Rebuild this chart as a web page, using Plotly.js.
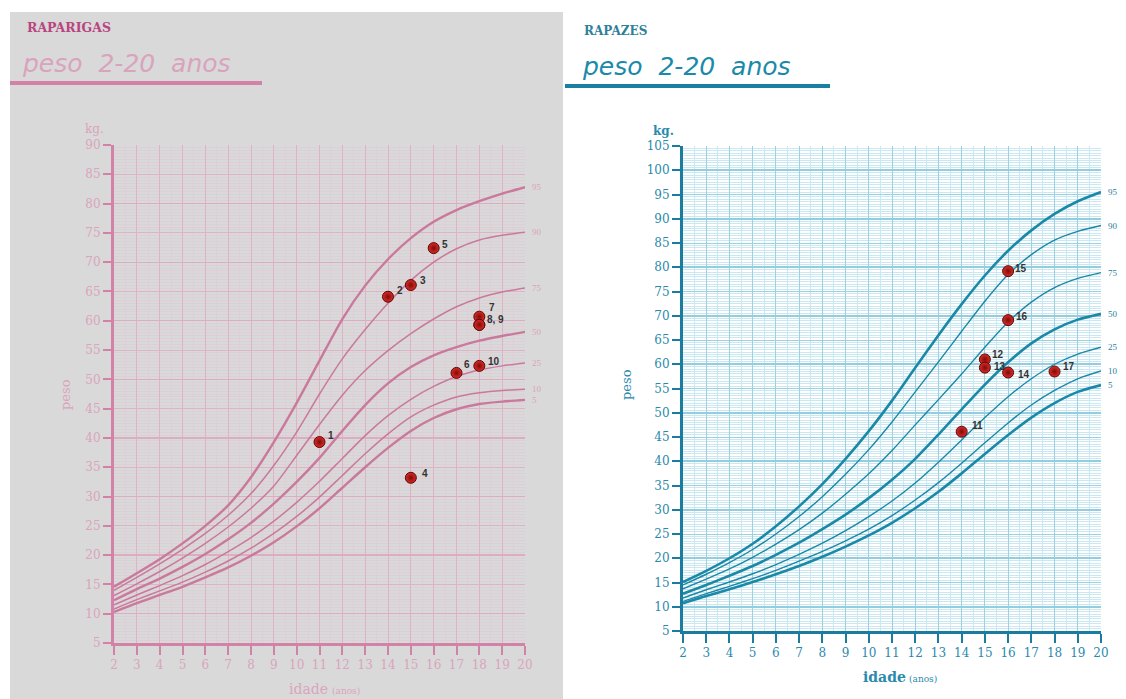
<!DOCTYPE html>
<html><head><meta charset="utf-8">
<script src="https://cdn.plot.ly/plotly-3.0.1.min.js"></script>
<style>html,body{margin:0;padding:0;background:#fff;}#chart{width:1126px;height:699px;}</style>
</head><body><div id="chart"></div>
<script>
// ---------- DATA ----------
const ages = [2,3,4,5,6,7,8,9,10,11,12,13,14,15,16,17,18,19,20];
const percentileNames = ['5','10','25','50','75','90','95'];

// Raparigas (girls) weight percentiles, kg
const girlsP5  = [10.3,11.8,13.2,14.6,16.2,17.9,19.9,22.2,24.9,28.0,31.5,35.0,38.3,41.2,43.4,44.9,45.8,46.2,46.5];
const girlsP10 = [10.8,12.4,13.9,15.4,17.1,19.0,21.2,23.7,26.6,29.9,33.6,37.3,40.7,43.6,45.6,47.0,47.7,48.1,48.3];
const girlsP25 = [11.5,13.2,14.8,16.5,18.4,20.6,23.0,25.8,29.0,32.6,36.5,40.4,43.8,46.6,48.8,50.5,51.6,52.3,52.8];
const girlsP50 = [12.3,14.2,16.0,18.0,20.2,22.7,25.5,28.8,32.5,36.6,41.2,45.6,49.3,52.1,54.1,55.5,56.6,57.4,58.1];
const girlsP75 = [13.1,15.1,17.2,19.5,22.0,24.8,28.0,31.8,37.0,42.3,47.3,51.5,54.9,57.8,60.3,62.4,63.9,64.9,65.6];
const girlsP90 = [14.0,16.2,18.5,21.0,23.7,26.8,30.5,35.3,41.0,47.5,53.5,58.5,63.0,66.9,70.0,72.3,73.8,74.6,75.1];
const girlsP95 = [14.6,16.9,19.3,22.0,25.0,28.5,33.3,39.3,46.0,53.2,60.3,66.0,70.5,74.1,76.9,78.9,80.4,81.7,82.8];

// Rapazes (boys) weight percentiles, kg
const boysP5  = [10.7,12.2,13.6,15.1,16.7,18.4,20.3,22.4,24.7,27.3,30.3,33.7,37.5,41.5,45.4,49.0,52.0,54.3,55.7];
const boysP10 = [11.1,12.7,14.2,15.8,17.5,19.4,21.4,23.6,26.0,28.8,32.0,35.6,39.6,43.8,47.9,51.6,54.6,57.0,58.6];
const boysP25 = [11.8,13.5,15.1,16.8,18.7,20.8,23.1,25.7,28.6,31.8,35.5,39.8,44.4,49.0,53.3,57.0,60.0,62.1,63.5];
const boysP50 = [12.7,14.5,16.4,18.4,20.7,23.2,26.0,29.0,32.4,36.2,40.5,45.5,50.7,55.8,60.4,64.3,67.2,69.2,70.4];
const boysP75 = [13.7,15.7,17.8,20.2,22.9,25.9,29.3,33.2,37.4,42.2,47.5,52.7,58.0,63.5,68.7,72.8,75.8,77.7,78.9];
const boysP90 = [14.5,16.7,19.1,21.8,25.0,28.6,32.7,37.3,42.4,48.1,54.3,60.5,66.8,73.0,78.5,82.6,85.6,87.4,88.6];
const boysP95 = [15.1,17.4,20.0,23.0,26.6,30.7,35.3,40.5,46.2,52.5,59.3,66.0,72.4,78.3,83.4,87.6,91.0,93.6,95.5];

// Observed points
const girlsPtAge    = [11,14,15,15,16,17,18,18,18,18];
const girlsPtKg     = [39.3,64.1,66.1,33.2,72.4,51.1,60.7,59.3,59.3,52.3];
const girlsPtLabel  = ['1','2','3','4','5','6','7','8, 9','','10'];
const boysPtAge     = [14,15,15,16,16,16,18];
const boysPtKg      = [46.1,61.0,59.3,58.3,79.2,69.1,58.5];
const boysPtLabel   = ['11','12','13','14','15','16','17'];

// ---------- STYLE ----------
const W = 1126, H = 699;
const px = v => v / W, py = v => 1 - v / H;
const girlsSeries = [girlsP5,girlsP10,girlsP25,girlsP50,girlsP75,girlsP90,girlsP95];
const boysSeries  = [boysP5,boysP10,boysP25,boysP50,boysP75,boysP90,boysP95];
const thick = {'5':true,'50':true,'95':true};
const girlOff = [[6,7],[7,6],[7,5],[9,4],[6,4],[5,8],[8,9],[6,5],[0,0],[7,4]];
const boyOff  = [[8,6],[5,5],[7,1],[8,-2],[5,3],[6,4],[6,5]];

const PINK_LINE = '#c9799b', PINK_AX = '#d282a6', PINK_TXT = '#daa4bc';
const TEAL_LINE = '#1a88a7', TEAL_AX = '#1a7d9f', TEAL_TXT = '#2a8aab';

const traces = [];
girlsSeries.forEach((s,i)=>{
  const n = percentileNames[i];
  traces.push({x:ages,y:s,xaxis:'x',yaxis:'y',mode:'lines',line:{color:PINK_LINE,width:thick[n]?2.4:1.5,shape:'spline',smoothing:0.7},hoverinfo:'skip',showlegend:false});
});
boysSeries.forEach((s,i)=>{
  const n = percentileNames[i];
  traces.push({x:ages,y:s,xaxis:'x2',yaxis:'y2',mode:'lines',line:{color:TEAL_LINE,width:thick[n]?2.6:1.4,shape:'spline',smoothing:0.7},hoverinfo:'skip',showlegend:false});
});
traces.push({x:[],y:[],xaxis:'x',yaxis:'y3',showlegend:false,hoverinfo:'skip'});
traces.push({x:[],y:[],xaxis:'x2',yaxis:'y4',showlegend:false,hoverinfo:'skip'});
const markerStyle = {size:11,color:'#e02a26',line:{color:'#5a0806',width:1},gradient:{type:'radial',color:'#7a0d0a'}};
traces.push({x:girlsPtAge,y:girlsPtKg,xaxis:'x',yaxis:'y',mode:'markers',marker:markerStyle,showlegend:false,cliponaxis:false});
traces.push({x:boysPtAge,y:boysPtKg,xaxis:'x2',yaxis:'y2',mode:'markers',marker:markerStyle,showlegend:false,cliponaxis:false});

const annotations = [];
const ptFont = {family:'Liberation Sans, Arial',size:10,color:'#333333'};
girlsPtAge.forEach((a,i)=>{
  if(!girlsPtLabel[i]) return;
  annotations.push({xref:'x',yref:'y',x:a,y:girlsPtKg[i],text:'<b>'+girlsPtLabel[i]+'</b>',showarrow:false,xanchor:'left',yanchor:'middle',xshift:girlOff[i][0],yshift:girlOff[i][1],font:ptFont});
});
boysPtAge.forEach((a,i)=>{
  annotations.push({xref:'x2',yref:'y2',x:a,y:boysPtKg[i],text:'<b>'+boysPtLabel[i]+'</b>',showarrow:false,xanchor:'left',yanchor:'middle',xshift:boyOff[i][0],yshift:boyOff[i][1],font:ptFont});
});
const lastAge = ages[ages.length-1];
girlsSeries.forEach((s,i)=>{
  annotations.push({xref:'x',yref:'y',x:lastAge,y:s[s.length-1],xshift:5,text:percentileNames[i],showarrow:false,xanchor:'left',yanchor:'middle',font:{family:'Liberation Serif',size:9,color:PINK_TXT}});
});
boysSeries.forEach((s,i)=>{
  annotations.push({xref:'x2',yref:'y2',x:lastAge,y:s[s.length-1],xshift:5,text:percentileNames[i],showarrow:false,xanchor:'left',yanchor:'middle',font:{family:'Liberation Serif',size:9,color:'#2a7f9c'}});
});
const serif = 'DejaVu Serif';
annotations.push(
  {xref:'paper',yref:'paper',x:px(25),y:py(27),text:'<b>RAPARIGAS</b>',showarrow:false,xanchor:'left',yanchor:'middle',font:{family:serif,size:12.5,color:'#b8457f'}},
  {xref:'paper',yref:'paper',x:px(20),y:py(63),text:'<i>peso&nbsp; 2-20&nbsp; anos</i>',showarrow:false,xanchor:'left',yanchor:'middle',font:{family:'DejaVu Sans',size:25,color:'#d9a3bd'}},
  {xref:'paper',yref:'paper',x:px(582),y:py(31),text:'<b>RAPAZES</b>',showarrow:false,xanchor:'left',yanchor:'middle',font:{family:serif,size:12,color:'#2f7f9b'}},
  {xref:'paper',yref:'paper',x:px(580),y:py(66),text:'<i>peso&nbsp; 2-20&nbsp; anos</i>',showarrow:false,xanchor:'left',yanchor:'middle',font:{family:'DejaVu Sans',size:25,color:'#1a8aa8'}},
  {xref:'paper',yref:'paper',x:px(95),y:py(129),text:'kg.',showarrow:false,xanchor:'center',yanchor:'middle',font:{family:serif,size:12,color:PINK_TXT}},
  {xref:'paper',yref:'paper',x:px(66),y:py(395),text:'peso',textangle:-90,showarrow:false,xanchor:'center',yanchor:'middle',font:{family:serif,size:13,color:PINK_TXT}},
  {xref:'paper',yref:'paper',x:px(287),y:py(689),text:'idade',showarrow:false,xanchor:'left',yanchor:'middle',font:{family:serif,size:14,color:PINK_TXT}},
  {xref:'paper',yref:'paper',x:px(330),y:py(691),text:'(anos)',showarrow:false,xanchor:'left',yanchor:'middle',font:{family:serif,size:9,color:PINK_TXT}},
  {xref:'paper',yref:'paper',x:px(663),y:py(131),text:'<b>kg.</b>',showarrow:false,xanchor:'center',yanchor:'middle',font:{family:serif,size:12,color:TEAL_TXT}},
  {xref:'paper',yref:'paper',x:px(627),y:py(385),text:'peso',textangle:-90,showarrow:false,xanchor:'center',yanchor:'middle',font:{family:serif,size:13,color:TEAL_TXT}},
  {xref:'paper',yref:'paper',x:px(861),y:py(677),text:'<b>idade</b>',showarrow:false,xanchor:'left',yanchor:'middle',font:{family:serif,size:14,color:TEAL_TXT}},
  {xref:'paper',yref:'paper',x:px(907),y:py(679),text:'(anos)',showarrow:false,xanchor:'left',yanchor:'middle',font:{family:serif,size:9,color:TEAL_TXT}}
);

const shapes = [
  {type:'rect',xref:'paper',yref:'paper',x0:px(10),x1:px(563),y0:0,y1:py(12),fillcolor:'#d9d9d9',line:{width:0},layer:'below'},
  {type:'rect',xref:'paper',yref:'paper',x0:px(10),x1:px(262),y0:py(85),y1:py(81),fillcolor:'#d282a6',line:{width:0},layer:'below'},
  {type:'rect',xref:'paper',yref:'paper',x0:px(565),x1:px(830),y0:py(88),y1:py(84),fillcolor:'#1a7fa0',line:{width:0},layer:'below'}
];

function xAx(domain, anchor, ax, txt, grid, minor){
  return {domain, anchor, range:[2,20], tick0:2, dtick:1, showgrid:true, gridcolor:grid, gridwidth:1,
    minor:{dtick:0.5, showgrid:true, gridcolor:minor, gridwidth:1, ticks:''},
    showline:true, linecolor:ax, linewidth:3, ticks:'outside', ticklen:9, tickwidth:2, tickcolor:ax,
    tickfont:{family:serif,size:12,color:txt}, zeroline:false, fixedrange:true};
}
function yAx(domain, anchor, range, ax, txt, grid, minor){
  return {domain, anchor, range, tick0:5, dtick:5, showgrid:true, gridcolor:grid, gridwidth:1,
    minor:{dtick:0.5, showgrid:true, gridcolor:minor, gridwidth:1, ticks:''},
    showline:true, linecolor:ax, linewidth:3, ticks:'outside', ticklen:8, tickwidth:2, tickcolor:ax,
    tickfont:{family:serif,size:12,color:txt}, zeroline:false, fixedrange:true};
}
const layout = {
  width:W, height:H, margin:{l:0,r:0,t:0,b:0}, paper_bgcolor:'#ffffff', plot_bgcolor:'rgba(0,0,0,0)',
  showlegend:false, hovermode:false,
  xaxis: xAx([px(114),px(525)],'y',PINK_AX,PINK_TXT,'#e0b2c6','#dccfd5'),
  yaxis: yAx([1-643/H,1-145/H],'x',[5,90],PINK_AX,PINK_TXT,'#e0b2c6','#dccfd5'),
  yaxis3:{overlaying:'y',anchor:'x',range:[5,90],tick0:10,dtick:10,showgrid:true,gridcolor:'#ddabc2',gridwidth:1.3,showticklabels:false,ticks:'',showline:false,zeroline:false,fixedrange:true},
  xaxis2: xAx([px(683),px(1101)],'y2',TEAL_AX,TEAL_TXT,'#9ad2e4','#c9e8f2'),
  yaxis2: yAx([1-631/H,1-146/H],'x2',[5,105],TEAL_AX,TEAL_TXT,'#9ad2e4','#c9e8f2'),
  yaxis4:{overlaying:'y2',anchor:'x2',range:[5,105],tick0:10,dtick:10,showgrid:true,gridcolor:'#92cde0',gridwidth:2,showticklabels:false,ticks:'',showline:false,zeroline:false,fixedrange:true},
  annotations, shapes
};
Plotly.newPlot('chart', traces, layout, {staticPlot:true, displayModeBar:false});
</script></body></html>
